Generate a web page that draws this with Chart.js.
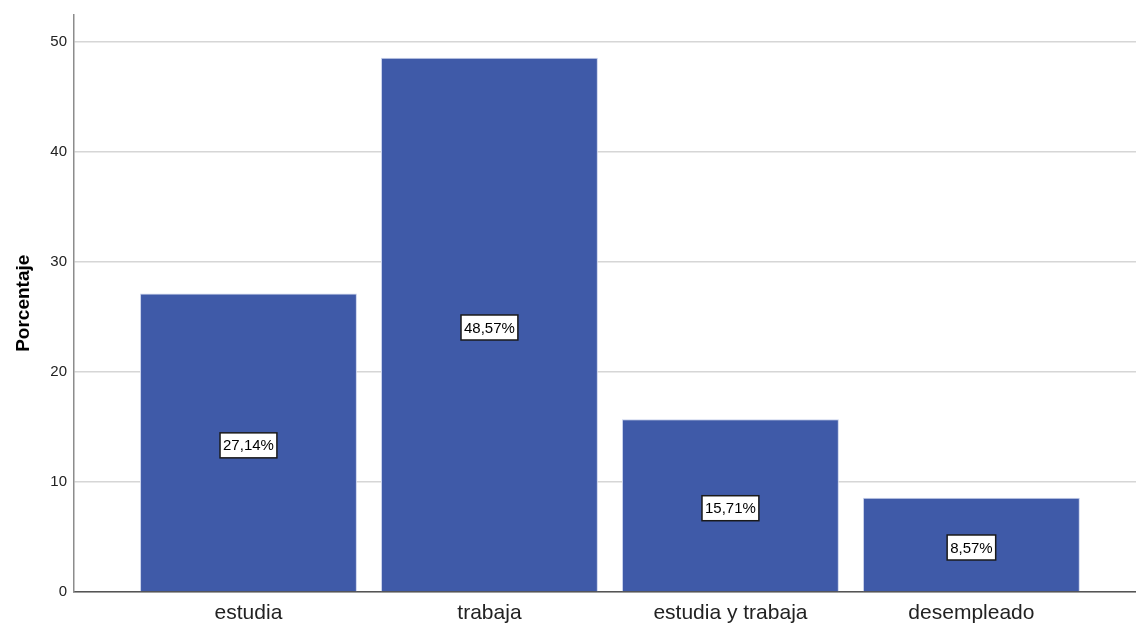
<!DOCTYPE html>
<html>
<head>
<meta charset="utf-8">
<script src="https://cdn.jsdelivr.net/npm/chart.js@4/dist/chart.umd.min.js"></script>
<style>
html,body{margin:0;padding:0;background:#fff;}
#wrap{width:1136px;height:628px;position:relative;}
</style>
</head>
<body>
<div id="wrap"><canvas id="c"></canvas></div>
<script>
const categories = ['estudia', 'trabaja', 'estudia y trabaja', 'desempleado'];
const percentages = [27.14, 48.57, 15.71, 8.57];
const valueLabels = ['27,14%', '48,57%', '15,71%', '8,57%'];
const yTicks = [0, 10, 20, 30, 40, 50];

const FONT = "'Liberation Sans', Arial, sans-serif";

const boxLabels = {
  id: 'boxLabels',
  afterDatasetsDraw(chart) {
    const ctx = chart.ctx;
    const meta = chart.getDatasetMeta(0);
    ctx.save();
    ctx.font = '15px ' + FONT;
    ctx.textAlign = 'center';
    ctx.textBaseline = 'middle';
    meta.data.forEach((bar, i) => {
      const txt = valueLabels[i];
      const cx = bar.x;
      const cy = (bar.y + bar.base) / 2 + 3;
      const w = ctx.measureText(txt).width + 6;
      const h = 25;
      ctx.fillStyle = '#ffffff';
      ctx.fillRect(cx - w / 2, cy - h / 2, w, h);
      ctx.strokeStyle = '#1a1a1a';
      ctx.lineWidth = 1.5;
      ctx.strokeRect(cx - w / 2, cy - h / 2, w, h);
      ctx.fillStyle = '#000000';
      ctx.fillText(txt, cx, cy + 1);
    });
    ctx.restore();
  }
};

new Chart(document.getElementById('c'), {
  type: 'bar',
  data: {
    datasets: [{
      data: percentages.map((v, i) => ({ x: i + 1, y: v })),
      backgroundColor: '#3F5AA8',
      borderColor: '#C9D2EC',
      borderWidth: 1,
      categoryPercentage: 1,
      barPercentage: 0.9
    }]
  },
  options: {
    responsive: true,
    maintainAspectRatio: false,
    animation: false,
    layout: { padding: { top: 6, right: 0, left: 0, bottom: 0 } },
    plugins: { legend: { display: false }, tooltip: { enabled: false } },
    scales: {
      x: {
        type: 'linear',
        offset: false,
        bounds: 'data',
        min: 0.276,
        max: 4.683,
        grid: { display: false, offset: false },
        border: { display: true, color: '#555555', width: 1.5 },
        afterBuildTicks(scale) {
          scale.ticks = categories.map((c, i) => ({ value: i + 1 }));
        },
        afterFit(scale) { scale.height = 36; },
        ticks: {
          autoSkip: false,
          maxRotation: 0,
          padding: 1,
          color: '#222222',
          font: { family: FONT, size: 21 },
          callback: (v) => categories[Math.round(v) - 1] || ''
        }
      },
      y: {
        min: 0,
        max: 52.5,
        afterBuildTicks(scale) {
          scale.ticks = yTicks.map(v => ({ value: v }));
        },
        afterFit(scale) { scale.width = 74; },
        grid: { color: '#D6D6D6', lineWidth: 1.5, drawTicks: false },
        border: { display: true, color: '#8C8C8C', width: 1.5 },
        ticks: {
          padding: 7,
          color: '#222222',
          font: { family: FONT, size: 15, lineHeight: 1.0 }
        },
        title: {
          display: true,
          text: 'Porcentaje',
          color: '#000000',
          font: { family: FONT, size: 19, weight: 'bold' },
          padding: { top: 12, bottom: 0 }
        }
      }
    }
  },
  plugins: [boxLabels]
});
</script>
</body>
</html>
